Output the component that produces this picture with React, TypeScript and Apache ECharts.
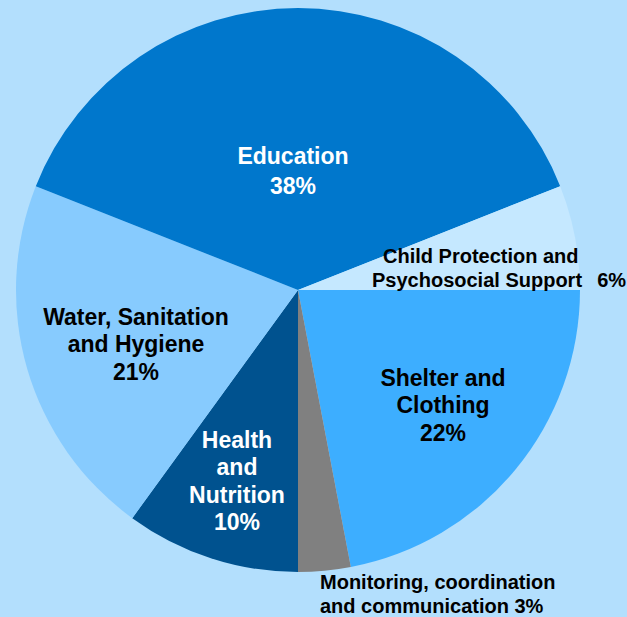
import { useEffect, useRef } from "react";
import * as echarts from "echarts";

const categories = [
  "Shelter and Clothing",
  "Monitoring, coordination and communication",
  "Health and Nutrition",
  "Water, Sanitation and Hygiene",
  "Education",
  "Child Protection and Psychosocial Support",
];
const values = [22, 3, 10, 21, 38, 6];
const labelNames = [
  "Shelter and\nClothing",
  "Monitoring, coordination\nand communication",
  "Health\nand\nNutrition",
  "Water, Sanitation\nand Hygiene",
  "Education",
  "Child Protection and\nPsychosocial Support",
];
const colors = ["#3daeff", "#808080", "#00528f", "#87cbfe", "#0077cc", "#c5e8ff"];
const textColors = ["#000000", "#000000", "#ffffff", "#000000", "#ffffff", "#000000"];

export default function App() {
  const ref = useRef<HTMLDivElement>(null);
  useEffect(() => {
    if (!ref.current) return;
    const chart = echarts.init(ref.current, undefined, { renderer: "svg" });
    const font = "'Liberation Sans', Arial, Helvetica, sans-serif";
    const layout: Record<number, any> = {
      0: { x: 443, y: 405, align: "center" },
      1: { x: 320, y: 594, align: "left" },
      2: { x: 237, y: 481, align: "center" },
      3: { x: 136, y: 344, align: "center" },
      4: { x: 293, y: 171, align: "center" },
      5: { x: 372, y: 268, align: "left" },
    };
    chart.setOption({
      animation: false,
      backgroundColor: "#b3dffd",
      series: [
        {
          type: "pie",
          center: [298, 290],
          radius: 282,
          startAngle: 0,
          clockwise: true,
          avoidLabelOverlap: false,
          label: {
            show: true,
            position: "inside",
            fontFamily: font,
            fontWeight: "bold",
          },
          labelLine: { show: false },
          emphasis: { disabled: true },
          labelLayout: (p: any) => ({ ...layout[p.dataIndex], verticalAlign: "middle" }),
          data: categories.map((name, i) => {
            const big = i !== 1 && i !== 5;
            let formatter: string;
            if (i === 5) {
              formatter = `{a|${labelNames[i].split("\n")[0]}}\n{b|${labelNames[i].split("\n")[1]}}{c|  ${values[i]}%}`;
            } else if (i === 1) {
              formatter = `${labelNames[i]} ${values[i]}%`;
            } else {
              formatter = `${labelNames[i]}\n${values[i]}%`;
            }
            return {
              name,
              value: values[i],
              itemStyle: { color: colors[i], borderWidth: 0 },
              label: {
                formatter,
                color: textColors[i],
                fontSize: big ? 23 : 20,
                lineHeight: big ? (i === 4 ? 29.5 : 27.5) : 24,
                fontFamily: font,
                fontWeight: "bold",
                rich: {
                  a: { fontSize: 20, lineHeight: 24, fontWeight: "bold", fontFamily: font, color: "#000", padding: [0, 0, 0, 11] },
                  b: { fontSize: 20, lineHeight: 24, fontWeight: "bold", fontFamily: font, color: "#000" },
                  c: { fontSize: 20, lineHeight: 24, fontWeight: "bold", fontFamily: font, color: "#000", padding: [0, 0, 0, 4] },
                },
              },
            };
          }),
        },
      ],
    });
    return () => chart.dispose();
  }, []);
  return (
    <div
      ref={ref}
      style={{ position: "fixed", left: 0, top: 0, width: 627, height: 617, background: "#b3dffd" }}
    />
  );
}
